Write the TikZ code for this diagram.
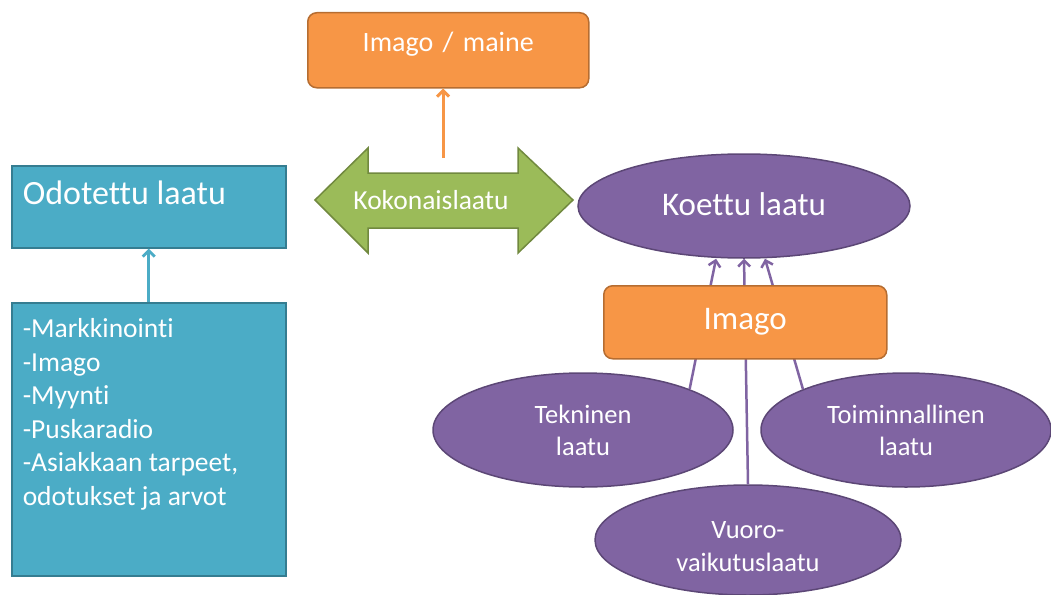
\documentclass[tikz,border=0pt]{standalone}
\usepackage{fontspec}
\setmainfont{Carlito}[Ligatures=CommonOff]
\usetikzlibrary{arrows.meta,shapes.geometric}
\definecolor{aqua}{HTML}{4BACC6}
\definecolor{aquadark}{HTML}{357D91}
\definecolor{orng}{HTML}{F79646}
\definecolor{orngdark}{HTML}{B66D31}
\definecolor{grn}{HTML}{9BBB59}
\definecolor{grndark}{HTML}{71893F}
\definecolor{purp}{HTML}{8064A2}
\definecolor{purpdark}{HTML}{5C4776}
\newcommand{\fsz}[2]{\fontsize{#1}{#2}\selectfont}
\newcommand{\wsp}{\spaceskip=0pt\xspaceskip=0pt\relax}

\begin{document}
\begin{tikzpicture}
                \tikzset{x=1pt, y=-1pt, every node/.style={execute at begin node=\wsp}}
                \tikzstyle{box}=[rectangle, draw=aquadark, fill=aqua, line width=1.5pt, text=white, inner ysep=0pt, inner xsep=11pt, align=left, anchor=north west]
                \tikzstyle{obox}=[rectangle, rounded corners=9pt, draw=orngdark, fill=orng, line width=1.5pt, text=white, inner sep=0pt, align=center, anchor=north west]
                \tikzstyle{oval}=[ellipse, draw=purpdark, fill=purp, line width=1.5pt, text=white, inner sep=0pt, align=center]
                \tikzstyle{link}=[-{Straight Barb[length=6pt, width=12pt]}, line width=2.5pt]

                \useasboundingbox (0, 0) rectangle (1051, 594);

                \draw (11, 165)     node[box, font=\fsz{34}{40}, text width=252pt, text height=39pt, text depth=43pt]       (odot)  {Odotettu laatu};
                \draw (11, 302)     node[box, font=\fsz{27.5}{33.5}, text width=252pt, text height=35pt, text depth=238pt]  (lista) {-Markkinointi\\-Imago\\-Myynti\\-Puskaradio\\-Asiakkaan tarpeet,\\odotukset ja arvot};

                \draw (307, 12)     node[obox, font=\fsz{28}{32}, text width=281pt, text height=39pt, text depth=36pt]  (maine) {Imago / maine};

                \draw[fill=grn, draw=grndark, line width=1.5pt]
                      (315, 200) -- (368, 148) -- (368, 173) -- (518, 173) -- (518, 148) -- (573, 200)
                   -- (518, 253) -- (518, 228) -- (368, 228) -- (368, 253) -- cycle;
                \draw (431, 200)    node[text=white, font=\fsz{27.5}{32}]   (koko)  {Kokonaislaatu};
                \coordinate (kokotop) at (443, 158);

                \draw (744, 206)    node[oval, font=\fsz{33}{38}, minimum width=332pt, minimum height=104pt, text height=26pt, text depth=8pt]  (koettu) {Koettu laatu};
                \draw (583, 430)    node[oval, font=\fsz{26.5}{32}, minimum width=300pt, minimum height=114pt]  (tek)    {Tekninen\\laatu};
                \draw (906, 430)    node[oval, font=\fsz{26.5}{32}, minimum width=290pt, minimum height=114pt]  (toim)   {Toiminnallinen\\laatu};
                \draw (748, 540)    node[oval, font=\fsz{26.5}{33}, minimum width=306pt, minimum height=110pt, text height=62pt, text depth=0pt]  (vuoro)  {Vuoro-\\vaikutuslaatu};

                \draw [link, purp]  (tek.north east) -- ([xshift=-28pt]koettu.south);
                \draw [link, purp]  (vuoro.north) -- (koettu.south);
                \draw [link, purp]  (toim.north west) -- ([xshift=21pt]koettu.south);

                \draw (603, 285)    node[obox, font=\fsz{33}{38}, text width=283pt, text height=43.5pt, text depth=29.5pt] (imago) {Imago};

                \draw [link, orng, line width=3pt]  (kokotop) -- (kokotop |- maine.south);
                \draw [link, aqua, line width=3pt]  (lista.north) -- (odot.south);
            \end{tikzpicture}
\end{document}
